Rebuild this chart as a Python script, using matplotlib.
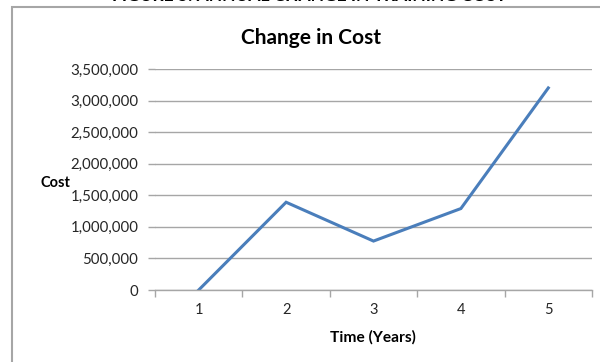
import matplotlib
matplotlib.use("Agg")
import matplotlib.pyplot as plt
from matplotlib.patches import Rectangle
from matplotlib.ticker import FuncFormatter, FixedLocator

years = [1, 2, 3, 4, 5]
year_labels = ["1", "2", "3", "4", "5"]
cost = [0, 1390000, 775000, 1290000, 3200000]
y_ticks = [0, 500000, 1000000, 1500000, 2000000, 2500000, 3000000, 3500000]

plt.rcParams['font.family'] = ['Lato', 'DejaVu Sans']

fig = plt.figure(figsize=(6, 3.62), dpi=100)
W, H = 600, 362

# outer chart frame
fig.patches.append(Rectangle((12 / W, -0.05), 1.0, 1 - 7 / H + 0.05,
                             transform=fig.transFigure, fill=False,
                             edgecolor="#a6a6a6", linewidth=1.5))
# cut-off heading above the chart
fig.text(309 / W, 1 + 4 / H, "FIGURE 5: ANNUAL CHANGE IN TRAINING COST",
         ha="center", va="center", fontsize=12.5, fontweight="bold", color="black")

ax = fig.add_axes([155 / W, 1 - 290 / H, (592 - 155) / W, (290 - 69) / H])

ax.plot(years, cost, color="#4a7ebb", linewidth=2.2, solid_joinstyle="miter")

ax.set_xlim(0.5, 5.5)
ax.set_ylim(0, 3500000)

ax.set_yticks(y_ticks)
ax.yaxis.set_major_formatter(FuncFormatter(lambda v, p: f"{int(v):,}"))
ax.grid(axis="y", color="#a6a6a6", linewidth=1.0)
ax.set_axisbelow(True)

ax.xaxis.set_major_locator(FixedLocator([x - 0.5 for x in years] + [years[-1] + 0.5]))
ax.xaxis.set_major_formatter(FuncFormatter(lambda v, p: ""))
ax.xaxis.set_minor_locator(FixedLocator(years))
ax.set_xticklabels(year_labels, minor=True)
ax.tick_params(axis="x", which="major", length=5, color="#a6a6a6", width=1.0)
ax.tick_params(axis="x", which="minor", length=0, pad=9, labelsize=10.5, labelcolor="#262626")
ax.tick_params(axis="y", length=5, color="#a6a6a6", width=1.0, pad=7,
               labelsize=10.8, labelcolor="#262626")

for s in ["top", "right", "left"]:
    ax.spines[s].set_visible(False)
ax.spines["bottom"].set_color("#a6a6a6")
ax.spines["bottom"].set_linewidth(1.0)

fig.text(311 / W, 1 - 38 / H, "Change in Cost", ha="center", va="center",
         fontsize=15, fontweight="bold", color="black")
fig.text(55 / W, 1 - 183 / H, "Cost", ha="center", va="center",
         fontsize=10.5, fontweight="bold", color="black")
fig.text(373 / W, 1 - 337 / H, "Time (Years)", ha="center", va="center",
         fontsize=11.2, fontweight="bold", color="black")

fig.savefig("out.png", dpi=100)
